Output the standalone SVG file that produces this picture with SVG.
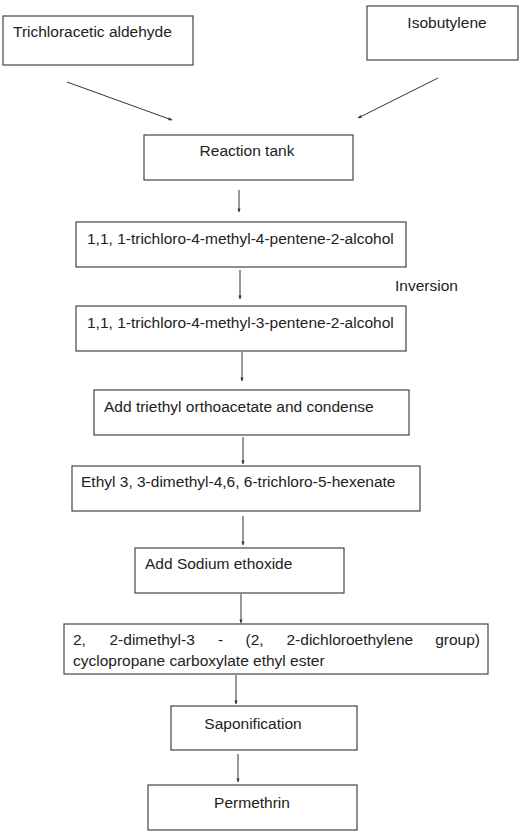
<svg xmlns="http://www.w3.org/2000/svg" width="524" height="835" viewBox="0 0 524 835">
<defs>
<style>
.box{fill:#fff;stroke:#444;stroke-width:1.2}
.t{font-family:"Liberation Sans",Arial,sans-serif;font-size:15.5px;fill:#222}
.c{text-anchor:middle}
.ln{stroke:#333;stroke-width:1;fill:none;marker-end:url(#ah)}
</style>
<marker id="ah" viewBox="0 0 10 10" refX="9" refY="5" markerWidth="4" markerHeight="4" orient="auto" markerUnits="userSpaceOnUse">
<path d="M0,1 L10,5 L0,9 z" fill="#333"/>
</marker>
</defs>
<rect width="524" height="835" fill="#fff"/>
<g id="connectors">
<line class="ln" x1="67" y1="82" x2="172" y2="120"/>
<line class="ln" x1="438" y1="78" x2="358" y2="118"/>
<line class="ln" x1="239" y1="190" x2="239" y2="212"/>
<line class="ln" x1="240" y1="270" x2="240" y2="299"/>
<line class="ln" x1="242" y1="352" x2="242" y2="381"/>
<line class="ln" x1="243" y1="437" x2="243" y2="464"/>
<line class="ln" x1="243" y1="516" x2="243" y2="545"/>
<line class="ln" x1="241" y1="594" x2="241" y2="623"/>
<line class="ln" x1="236" y1="675" x2="236" y2="704"/>
<line class="ln" x1="238" y1="754" x2="238" y2="782"/>
</g>
<g id="n-trichloracetic">
<rect class="box" x="3" y="16" width="190" height="49"/>
<text class="t" x="13" y="37">Trichloracetic aldehyde</text>
</g>
<g id="n-isobutylene">
<rect class="box" x="367" y="6" width="151" height="54"/>
<text class="t c" x="447" y="28">Isobutylene</text>
</g>
<g id="n-reaction">
<rect class="box" x="144" y="135" width="209" height="45"/>
<text class="t c" x="247" y="156">Reaction tank</text>
</g>
<g id="n-alcohol4">
<rect class="box" x="76" y="222" width="330" height="45"/>
<text class="t" x="87" y="244">1,1, 1-trichloro-4-methyl-4-pentene-2-alcohol</text>
</g>
<g id="l-inversion">
<text class="t" x="395" y="291">Inversion</text>
</g>
<g id="n-alcohol3">
<rect class="box" x="76" y="306" width="330" height="45"/>
<text class="t" x="87" y="328">1,1, 1-trichloro-4-methyl-3-pentene-2-alcohol</text>
</g>
<g id="n-orthoacetate">
<rect class="box" x="94" y="390" width="315" height="45"/>
<text class="t" x="104" y="412">Add triethyl orthoacetate and condense</text>
</g>
<g id="n-hexenate">
<rect class="box" x="72" y="466" width="348" height="45"/>
<text class="t" x="81" y="487">Ethyl 3, 3-dimethyl-4,6, 6-trichloro-5-hexenate</text>
</g>
<g id="n-ethoxide">
<rect class="box" x="135" y="548" width="209" height="45"/>
<text class="t" x="145" y="569">Add Sodium ethoxide</text>
</g>
<g id="n-ester">
<rect class="box" x="64" y="624" width="424" height="50"/>
<text class="t" y="645"><tspan x="73">2,</tspan><tspan x="109.5">2-dimethyl-3</tspan><tspan x="218">-</tspan><tspan x="245.5">(2,</tspan><tspan x="286.5">2-dichloroethylene</tspan><tspan x="480" text-anchor="end">group)</tspan></text>
<text class="t" x="73" y="666">cyclopropane carboxylate ethyl ester</text>
</g>
<g id="n-saponification">
<rect class="box" x="171" y="706" width="186" height="44"/>
<text class="t c" x="253" y="729">Saponification</text>
</g>
<g id="n-permethrin">
<rect class="box" x="148" y="785" width="209" height="45"/>
<text class="t c" x="252" y="808">Permethrin</text>
</g>
</svg>
